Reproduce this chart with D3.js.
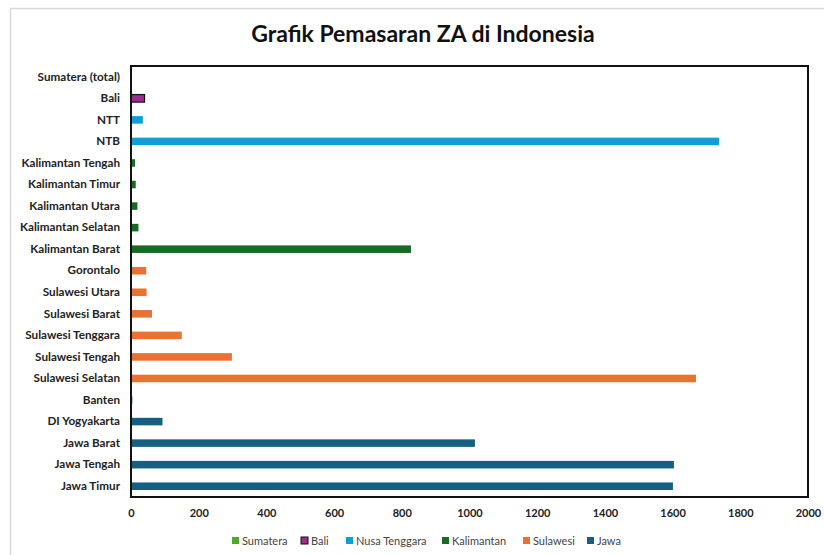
<!DOCTYPE html>
<html>
<head>
<meta charset="utf-8">
<script src="https://cdn.jsdelivr.net/npm/d3@7"></script>
<style>
  body { margin: 0; background: #fff; }
  svg { display: block; }
</style>
</head>
<body>
<div id="chart"></div>
<script>
// Categories, top to bottom as in the picture
const categories = [
  'Sumatera (total)', 'Bali', 'NTT', 'NTB',
  'Kalimantan Tengah', 'Kalimantan Timur', 'Kalimantan Utara', 'Kalimantan Selatan', 'Kalimantan Barat',
  'Gorontalo', 'Sulawesi Utara', 'Sulawesi Barat', 'Sulawesi Tenggara', 'Sulawesi Tengah', 'Sulawesi Selatan',
  'Banten', 'DI Yogyakarta', 'Jawa Barat', 'Jawa Tengah', 'Jawa Timur'
];
const values = [
  0, 40, 35, 1737,
  12, 14, 19, 22, 827,
  45, 46, 62, 150, 298, 1669,
  4, 93, 1016, 1604, 1601
];
const regions = [
  'Sumatera', 'Bali', 'Nusa Tenggara', 'Nusa Tenggara',
  'Kalimantan', 'Kalimantan', 'Kalimantan', 'Kalimantan', 'Kalimantan',
  'Sulawesi', 'Sulawesi', 'Sulawesi', 'Sulawesi', 'Sulawesi', 'Sulawesi',
  'Jawa', 'Jawa', 'Jawa', 'Jawa', 'Jawa'
];
const legendNames = ['Sumatera', 'Bali', 'Nusa Tenggara', 'Kalimantan', 'Sulawesi', 'Jawa'];
const legendColors = ['#4ea72e', '#a02b93', '#0f9ed5', '#196b24', '#e97132', '#156082'];
const xTicks = [0, 200, 400, 600, 800, 1000, 1200, 1400, 1600, 1800, 2000];

const width = 824, height = 555;
const marginTop = 66, marginLeft = 131, marginRight = 16, marginBottom = 58;
const chartWidth = width - marginLeft - marginRight;
const chartHeight = height - marginTop - marginBottom;

const svg = d3.select('#chart')
  .append('svg')
  .attr('width', width)
  .attr('height', height)
  .attr('viewBox', [0, 0, width, height]);

// Outer chart-area border (light gray)
svg.append('rect')
  .attr('x', 10.5)
  .attr('y', 8.5)
  .attr('width', width + 20)
  .attr('height', height + 20)
  .attr('fill', 'none')
  .attr('stroke', '#d9d9d9')
  .attr('stroke-width', 1.5);

// Title
svg.append('text')
  .attr('x', 423)
  .attr('y', 42)
  .attr('text-anchor', 'middle')
  .style('font-family', 'Lato, sans-serif')
  .style('font-weight', 'bold')
  .style('font-size', '23px')
  .style('fill', '#111')
  .text('Grafik Pemasaran ZA di Indonesia');

const g = svg.append('g')
  .attr('transform', `translate(${marginLeft},${marginTop})`);

const x = d3.scaleLinear()
  .domain([0, 2000])
  .range([0, chartWidth]);

const y = d3.scaleBand()
  .domain(categories)
  .range([0, chartHeight])
  .paddingInner(0.65)
  .paddingOuter(0.325);

const color = d3.scaleOrdinal()
  .domain(legendNames)
  .range(legendColors);

const data = categories.map((c, i) => ({ name: c, value: values[i], region: regions[i] }));

// Bars
g.selectAll('.bar')
  .data(data.filter(d => d.value > 0))
  .join('rect')
  .attr('class', 'bar')
  .attr('x', x(0))
  .attr('y', d => y(d.name))
  .attr('width', d => x(d.value) - x(0))
  .attr('height', y.bandwidth())
  .attr('fill', d => color(d.region))
  .attr('stroke', d => d.region === 'Bali' ? '#111' : 'none')
  .attr('stroke-width', 1.2);

// Plot frame
g.append('rect')
  .attr('x', 0)
  .attr('y', 0)
  .attr('width', chartWidth)
  .attr('height', chartHeight)
  .attr('fill', 'none')
  .attr('stroke', '#111')
  .attr('stroke-width', 2);

// Category labels
const yAxis = g.append('g')
  .call(d3.axisLeft(y).tickSize(0).tickPadding(11));
yAxis.select('.domain').remove();
yAxis.selectAll('text')
  .style('font-family', 'Lato, sans-serif')
  .style('font-weight', 'bold')
  .style('font-size', '11.7px')
  .style('fill', '#222');

// X axis labels
const xAxis = g.append('g')
  .attr('transform', `translate(0,${chartHeight})`)
  .call(d3.axisBottom(x).tickValues(xTicks).tickSize(0).tickPadding(12).tickFormat(d3.format('d')));
xAxis.select('.domain').remove();
xAxis.selectAll('text')
  .style('font-family', 'Lato, sans-serif')
  .style('font-weight', 'bold')
  .style('font-size', '11px')
  .style('fill', '#222');

// Legend
const legendX = [232, 301, 346, 442, 523, 587];
const legend = svg.append('g')
  .attr('transform', 'translate(0, 541)');

legendNames.forEach((name, i) => {
  const item = legend.append('g')
    .attr('transform', `translate(${legendX[i]}, 0)`);
  item.append('rect')
    .attr('x', 0)
    .attr('y', -4)
    .attr('width', 7)
    .attr('height', 7)
    .attr('fill', legendColors[i])
    .attr('stroke', name === 'Bali' ? '#111' : 'none')
    .attr('stroke-width', 1);
  item.append('text')
    .attr('x', 10)
    .attr('y', 3.5)
    .style('font-family', 'Lato, sans-serif')
    .style('font-size', '11px')
    .style('fill', '#444')
    .text(name);
});
</script>
</body>
</html>
